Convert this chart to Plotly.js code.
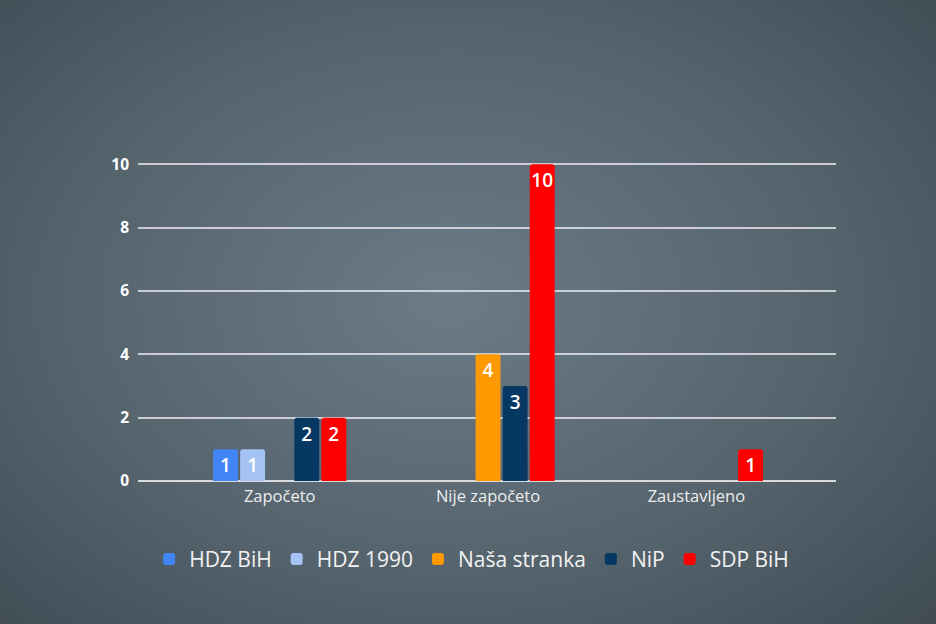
<!DOCTYPE html>
<html>
<head>
<meta charset="utf-8">
<script src="https://cdn.plot.ly/plotly-3.0.1.min.js"></script>
<style>
  html, body {
    margin: 0;
    padding: 0;
    width: 936px;
    height: 624px;
    overflow: hidden;
  }
  body {
    background: radial-gradient(ellipse 75% 80% at 48% 48%, #6b7b87 0%, #55636d 55%, #3e4951 100%);
  }
  #graph {
    width: 936px;
    height: 624px;
  }
</style>
</head>
<body>
<div id="graph"></div>
<script>
// categories and party values
const categories = ["Započeto", "Nije započeto", "Zaustavljeno"];
const parties = ["HDZ BiH", "HDZ 1990", "Naša stranka", "NiP", "SDP BiH"];
const hdzBih = [1, null, null];
const hdz1990 = [1, null, null];
const nasaStranka = [null, 4, null];
const nip = [2, 3, null];
const sdpBih = [2, 10, 1];
const partyColors = ["#4285f4", "#a4c2f4", "#ff9900", "#073763", "#ff0000"];
const yTicks = [0, 2, 4, 6, 8, 10];

const series = [hdzBih, hdz1990, nasaStranka, nip, sdpBih];
const font = "Open Sans, Lato, sans-serif";

let traces = [];
for (let i = 0; i < parties.length; i++) {
  traces.push({
    "type": "bar",
    "name": parties[i],
    "x": categories,
    "y": series[i],
    "text": series[i].map(v => v === null ? "" : String(v)),
    "textposition": "inside",
    "insidetextanchor": "end",
    "textangle": 0,
    "constraintext": "none",
    "textfont": {"family": font, "size": 19, "color": "#ffffff", "weight": 600},
    "marker": {"color": partyColors[i], "cornerradius": 3},
    "hoverinfo": "skip"
  });
}

const layout = {
  "width": 936,
  "height": 624,
  "paper_bgcolor": "rgba(0,0,0,0)",
  "plot_bgcolor": "rgba(0,0,0,0)",
  "margin": {"l": 138, "r": 100, "t": 161, "b": 143},
  "barmode": "group",
  "bargap": 0.35,
  "bargroupgap": 0.08,
  "showlegend": true,
  "legend": {
    "orientation": "h",
    "x": 0.478,
    "xanchor": "center",
    "y": -0.245,
    "yanchor": "middle",
    "font": {"family": font, "size": 21, "color": "#f2f2f2"},
    "itemwidth": 30,
    "tracegroupgap": 0
  },
  "xaxis": {
    "type": "category",
    "range": [-0.68, 2.67],
    "showgrid": false,
    "zeroline": false,
    "showline": false,
    "ticks": "",
    "ticklabelstandoff": 3,
    "tickfont": {"family": font, "size": 16.5, "color": "#eeeeee"},
    "fixedrange": true
  },
  "yaxis": {
    "range": [0, 10.1],
    "tickvals": yTicks,
    "ticktext": yTicks.map(String),
    "showgrid": true,
    "gridcolor": "rgba(222,225,228,0.85)",
    "gridwidth": 2,
    "zeroline": true,
    "zerolinecolor": "#d8dbdd",
    "zerolinewidth": 2,
    "showline": false,
    "ticks": "",
    "ticklabelstandoff": 8,
    "tickfont": {"family": font, "size": 15.5, "color": "#ffffff", "weight": 700},
    "fixedrange": true
  }
};

Plotly.newPlot("graph", traces, layout, {"displayModeBar": false, "staticPlot": true});
</script>
</body>
</html>
